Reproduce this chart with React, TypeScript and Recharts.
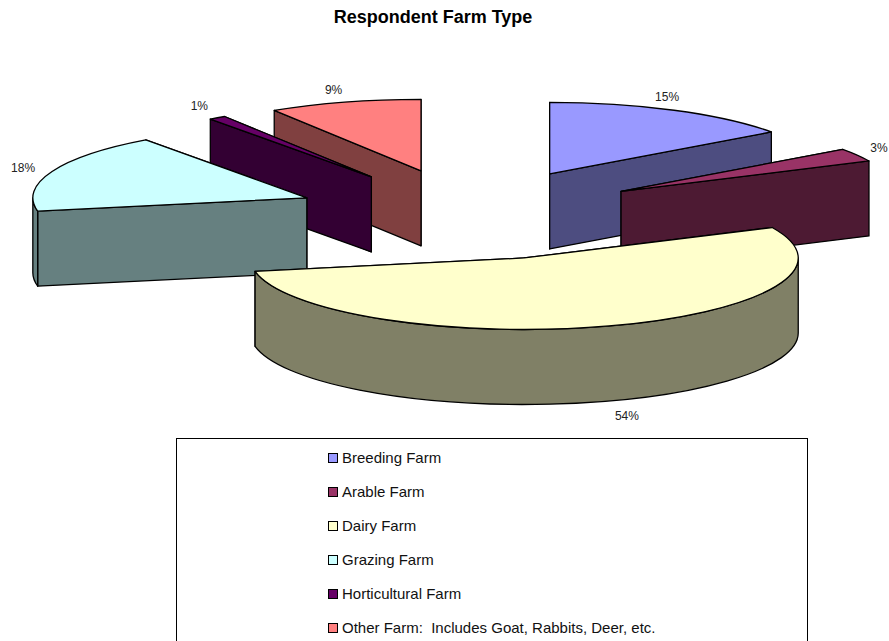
import React from "react";
import { PieChart, Pie, Legend } from "recharts";

const categories = [
  "Breeding Farm",
  "Arable Farm",
  "Dairy Farm",
  "Grazing Farm",
  "Horticultural Farm",
  "Other Farm:  Includes Goat, Rabbits, Deer, etc.",
];
const shares = [15, 3, 54, 18, 1, 9];
const colors = ["#9999FF", "#993366", "#FFFFCC", "#CCFFFF", "#660066", "#FF8080"];
const chartTitle = "Respondent Farm Type";

const rows = categories.map((name, i) => ({ name, value: shares[i], fill: colors[i] }));
// Split so that the back-left slices are painted first and the dairy slice last.
const backRows = [rows[5], rows[4], rows[3]];
const frontRows = [rows[0], rows[1], rows[2]];
const sum = (r: { value: number }[]) => r.reduce((a, b) => a + b.value, 0);
const total = sum(rows);

const W = 889;
const H = 641;
const CX = 470;
const CY = 214.6;
const RX = 274;
const SQUASH = 71.5 / 274;
const DEPTH = 75;
const EXPLODE_X = 175.5 / 274;
const EXPLODE_Y = 45.6 / 274;
const FONT = "'Liberation Sans', Arial, sans-serif";

const RAD = Math.PI / 180;
const shade = (hex: string) => {
  const n = parseInt(hex.slice(1), 16);
  const c = [(n >> 16) & 255, (n >> 8) & 255, n & 255].map((v) => Math.round(v / 2));
  return `rgb(${c[0]},${c[1]},${c[2]})`;
};

const apexOf = (cx: number, cy: number, r: number, mid: number) => ({
  x: cx + r * EXPLODE_X * Math.cos(mid * RAD),
  y: cy - r * EXPLODE_Y * Math.sin(mid * RAD),
});

const Slice3D = (props: any) => {
  const { cx, cy, outerRadius: r, startAngle: s, endAngle: e, midAngle, fill } = props;
  const mid = midAngle ?? (s + e) / 2;
  const ry = r * SQUASH;
  const o = apexOf(cx, cy, r, mid);
  const pt = (a: number) => ({ x: o.x + r * Math.cos(a * RAD), y: o.y - ry * Math.sin(a * RAD) });
  const ps = pt(s);
  const pe = pt(e);
  const large = Math.abs(e - s) > 180 ? 1 : 0;
  const sweep = e < s ? 1 : 0;
  const top = `M${o.x},${o.y}L${ps.x},${ps.y}A${r},${ry} 0 ${large} ${sweep} ${pe.x},${pe.y}Z`;
  const face = (p: { x: number; y: number }) =>
    `M${o.x},${o.y}L${p.x},${p.y}L${p.x},${p.y + DEPTH}L${o.x},${o.y + DEPTH}Z`;

  const lo = Math.min(s, e);
  const hi = Math.max(s, e);
  let wall = "";
  [0, -360].forEach((k) => {
    const a1 = Math.min(hi + k, 0);
    const a2 = Math.max(lo + k, -180);
    if (a1 > a2) {
      const p1 = pt(a1);
      const p2 = pt(a2);
      wall =
        `M${p1.x},${p1.y}A${r},${ry} 0 0 1 ${p2.x},${p2.y}` +
        `L${p2.x},${p2.y + DEPTH}A${r},${ry} 0 0 0 ${p1.x},${p1.y + DEPTH}Z`;
    }
  });

  // The cut face whose rim point sits lower on screen is nearer the viewer.
  const faces = ps.y < pe.y ? [face(ps), face(pe)] : [face(pe), face(ps)];
  const dark = shade(fill);
  const line = { stroke: "#000", strokeWidth: 1.3, strokeLinejoin: "round" as const };
  return (
    <g>
      {faces.map((d, i) => (
        <path key={i} d={d} fill={dark} {...line} />
      ))}
      {wall && <path d={wall} fill={dark} {...line} />}
      <path d={top} fill={fill} {...line} />
    </g>
  );
};

// Label placement relative to the outer rim point of the slice (layout only).
const labelNudge: Record<number, [number, number]> = {
  15: [-7, -13],
  3: [22, -7],
  54: [18, 90],
  18: [-29, -3],
  1: [-18, -12],
  9: [-11, -12],
};

const sliceLabel = (props: any) => {
  const { cx, cy, outerRadius: r, midAngle, value } = props;
  const o = apexOf(cx, cy, r, midAngle);
  const n = labelNudge[value] ?? [0, 0];
  const x = o.x + r * Math.cos(midAngle * RAD) + n[0];
  const y = o.y - r * SQUASH * Math.sin(midAngle * RAD) + n[1];
  return (
    <text x={x} y={y} textAnchor="middle" dominantBaseline="central" fontFamily={FONT} fontSize={12} fill="#222">
      {`${value}%`}
    </text>
  );
};

const LegendBox = () => (
  <div
    style={{
      position: "absolute",
      left: 176,
      top: 438,
      width: 632,
      height: 260,
      boxSizing: "border-box",
      border: "1px solid #000",
      background: "#fff",
      fontFamily: FONT,
      fontSize: 15,
      color: "#111",
    }}
  >
    {rows.map((row, i) => (
      <div
        key={row.name}
        style={{
          position: "absolute",
          left: 151,
          top: 19 + i * 34 - 10,
          height: 20,
          lineHeight: "20px",
          whiteSpace: "pre",
          display: "flex",
          alignItems: "center",
        }}
      >
        <span
          style={{
            display: "inline-block",
            width: 10,
            height: 10,
            boxSizing: "border-box",
            border: "1px solid #000",
            background: row.fill,
            marginRight: 4,
          }}
        />
        {row.name}
      </div>
    ))}
  </div>
);

export default function App() {
  const backSpan = (sum(backRows) / total) * 360;
  const frontSpan = (sum(frontRows) / total) * 360;
  return (
    <div style={{ position: "absolute", left: 0, top: 0, width: W, height: H, overflow: "hidden", background: "#fff" }}>
      <PieChart width={W} height={H} margin={{ top: 0, right: 0, bottom: 0, left: 0 }}>
        <text x={433} y={17} textAnchor="middle" dominantBaseline="central" fontFamily={FONT} fontSize={18} fontWeight="bold" fill="#000">
          {chartTitle}
        </text>
        <Pie
          data={backRows}
          dataKey="value"
          nameKey="name"
          cx={CX}
          cy={CY}
          innerRadius={0}
          outerRadius={RX}
          startAngle={90}
          endAngle={90 + backSpan}
          shape={Slice3D}
          label={sliceLabel}
          labelLine={false}
          isAnimationActive={false}
          legendType="none"
        />
        <Pie
          data={frontRows}
          dataKey="value"
          nameKey="name"
          cx={CX}
          cy={CY}
          innerRadius={0}
          outerRadius={RX}
          startAngle={90}
          endAngle={90 - frontSpan}
          shape={Slice3D}
          label={sliceLabel}
          labelLine={false}
          isAnimationActive={false}
          legendType="none"
        />
        <Legend content={LegendBox} wrapperStyle={{ position: "absolute", left: 0, top: 0, width: 0, height: 0 }} />
      </PieChart>
    </div>
  );
}
